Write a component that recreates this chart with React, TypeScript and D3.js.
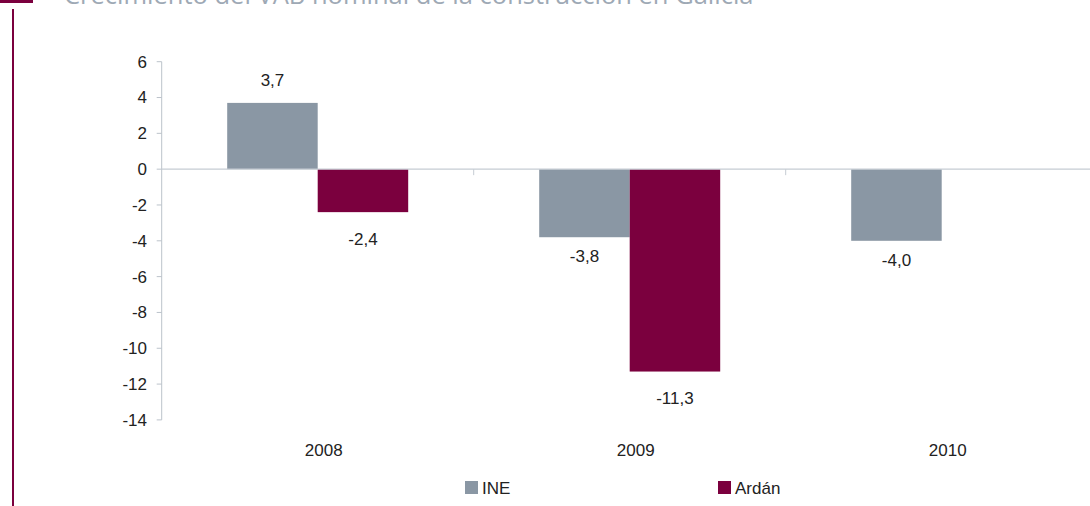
import React from "react";
import * as d3 from "d3";

const title = "Crecimiento del VAB nominal de la construcción en Galicia";
const categories = ["2008", "2009", "2010"];
const seriesNames = ["INE", "Ardán"];
const ineValues: (number | null)[] = [3.7, -3.8, -4.0];
const ardanValues: (number | null)[] = [-2.4, -11.3, null];
const yTicks = [6, 4, 2, 0, -2, -4, -6, -8, -10, -12, -14];

const colors: Record<string, string> = { INE: "#8a97a4", "Ardán": "#7b003e" };
const labelOffset: Record<string, number> = { INE: 19, "Ardán": 27 };

const W = 1090;
const H = 506;

export default function App() {
  const x0 = d3.scaleBand<string>().domain(categories).range([161.7, 1097.7]).padding(0);
  const x1 = d3.scaleBand<string>().domain(seriesNames).range([0, 181]).padding(0);
  const y = d3.scaleLinear().domain([-14, 6]).range([419.9, 61.7]);
  const fmt = (v: number) => d3.format(".1f")(v).replace(".", ",").replace("−", "-");

  const seriesData: Record<string, (number | null)[]> = { INE: ineValues, "Ardán": ardanValues };
  const font = "'Liberation Sans', Arial, sans-serif";
  const fs = 17;
  const axisX = 161.7;

  return (
    <svg width={W} height={H} style={{ position: "absolute", left: 0, top: 0, display: "block" }}>
      <rect x={0} y={0} width={W} height={H} fill="#fff" />
      {/* decoration */}
      <rect x={0} y={0} width={33} height={3} fill="#7b003e" />
      <rect x={12} y={9} width={2} height={H - 9} fill="#7b003e" />
      <text x={64} y={4} fontFamily="'Open Sans', sans-serif" fontSize={25.5} fill="#9ea9b5">
        {title}
      </text>

      {/* y axis */}
      <line x1={axisX} x2={axisX} y1={y(6)} y2={y(-14)} stroke="#bcc3cb" strokeWidth={1} />
      {yTicks.map((t) => (
        <g key={t}>
          <line x1={axisX - 5} x2={axisX} y1={y(t)} y2={y(t)} stroke="#bcc3cb" />
          <text
            x={147}
            y={y(t)}
            dy="0.35em"
            textAnchor="end"
            fontFamily={font}
            fontSize={fs}
            fill="#222"
          >
            {t}
          </text>
        </g>
      ))}

      {/* bars */}
      {categories.map((c, i) => {
        const center = (x0(c) as number) + x0.bandwidth() / 2;
        const gx = center - 90.5;
        return (
          <g key={c}>
            {seriesNames.map((s) => {
              const v = seriesData[s][i];
              if (v === null || v === undefined) return null;
              const bx = gx + (x1(s) as number);
              const top = Math.min(y(v), y(0));
              const h = Math.abs(y(v) - y(0));
              const ly = v >= 0 ? y(v) - 23 : y(v) + labelOffset[s];
              return (
                <g key={s}>
                  <rect x={bx} y={top} width={x1.bandwidth()} height={h} fill={colors[s]} />
                  <text
                    x={bx + x1.bandwidth() / 2}
                    y={ly}
                    dy="0.35em"
                    textAnchor="middle"
                    fontFamily={font}
                    fontSize={fs}
                    fill="#222"
                  >
                    {fmt(v)}
                  </text>
                </g>
              );
            })}
          </g>
        );
      })}

      {/* zero line and category ticks */}
      <line x1={axisX} x2={W} y1={y(0)} y2={y(0)} stroke="#c6ccd3" strokeWidth={1.2} />
      {categories.slice(1).map((c) => (
        <line
          key={c}
          x1={x0(c) as number}
          x2={x0(c) as number}
          y1={y(0)}
          y2={y(0) + 6}
          stroke="#c6ccd3"
        />
      ))}
      {categories.map((c) => (
        <text
          key={c}
          x={(x0(c) as number) + x0.bandwidth() / 2 + 6}
          y={450}
          dy="0.35em"
          textAnchor="middle"
          fontFamily={font}
          fontSize={fs}
          fill="#222"
        >
          {c}
        </text>
      ))}

      {/* legend */}
      {seriesNames.map((s, i) => {
        const lx = [465, 718][i];
        return (
          <g key={s}>
            <rect x={lx} y={481} width={13} height={13} fill={colors[s]} />
            <text x={lx + 17} y={488} dy="0.35em" fontFamily={font} fontSize={fs} fill="#222">
              {s}
            </text>
          </g>
        );
      })}
    </svg>
  );
}
